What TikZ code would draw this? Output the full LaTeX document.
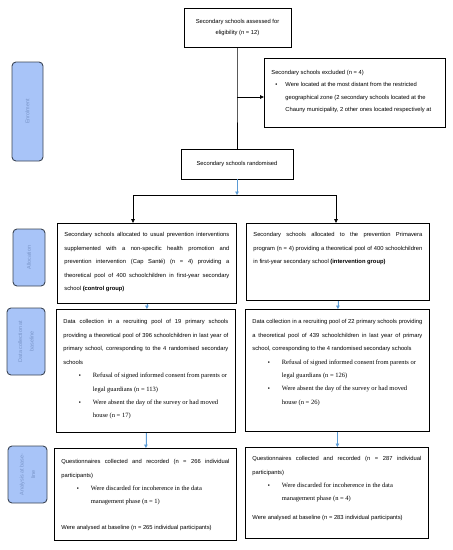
\documentclass[tikz,border=0pt]{standalone}
\usepackage{fontspec}
\setmainfont{Liberation Sans}
\newfontfamily\timesfont{Liberation Serif}
\usetikzlibrary{arrows.meta}
\usetikzlibrary{positioning}

\definecolor{stagefill}{RGB}{168,196,248}
\definecolor{stageline}{RGB}{60,70,86}
\definecolor{stagetext}{RGB}{120,148,200}
\definecolor{flowblue}{RGB}{91,155,213}

% top aligned text of a flow box: [first baseline]{height}{width}{text}
\newcommand{\boxtext}[4][14pt]{\parbox[t][#2][t]{#3}{\rule{0pt}{#1}#4}}
% bullet item: {left skip}{gap after bullet}{text}
\newcommand{\bulletitem}[3]{\par{\leftskip=#1\noindent\llap{\textbullet\hspace{#2}}#3\par}}
\newcommand{\itemfont}{\timesfont\fontsize{6.5}{13.4}\selectfont}

\tikzset{
  flowbox/.style={draw, line width=0.8pt, anchor=north west, inner xsep=7pt, inner ysep=0pt,
    font=\fontsize{5.8}{13.6}\selectfont},
  stage/.style={draw=stageline, fill=stagefill, line width=0.9pt, rounded corners=4pt,
    text=stagetext, font=\fontsize{5.4}{11.5}\selectfont, align=center, inner sep=0pt, rotate=90},
  flowarrow/.style={line width=0.8pt, -{Triangle[length=4pt,width=3.6pt]}},
  bluearrow/.style={draw=flowblue, line width=0.6pt, -{Triangle[length=3.5pt,width=3.6pt]}, fill=flowblue}
}

\begin{document}
\begin{tikzpicture}[x=1pt, y=-1pt]
    \useasboundingbox (0,0) rectangle (453,550);

    % Stage labels on the left
    \node[stage, minimum width=99pt, minimum height=31pt] (enrol) at (27.5,111.5) {Enrolment};
    \node[stage, minimum width=57pt, minimum height=32pt] (alloc) at (29,257.5) {Allocation};
    \node[stage, minimum width=67pt, minimum height=38pt] (datacoll) at (26,341.5) {Data collection at\\baseline};
    \node[stage, minimum width=57pt, minimum height=39pt] (analysis) at (27.5,474.5) {Analysis at base-\\line};

    % Enrolment
    \node[draw, line width=0.8pt, minimum width=107pt, minimum height=39pt, align=center,
        font=\fontsize{5.8}{11.5}\selectfont] (assessed) at (237.5,27.5)
        {Secondary schools assessed for\\eligibility (n = 12)};
    \node[flowbox, font=\fontsize{5.8}{12.3}\selectfont] (excluded) at (264,58)
        {\boxtext[16pt]{69pt}{167pt}{\raggedright Secondary schools excluded (n = 4)
        \bulletitem{14pt}{8pt}{Were located at the most distant from the restricted\\
        geographical zone (2 secondary schools located at the\\
        Chauny municipality, 2 other ones located respectively at}}};
    \node[draw, line width=0.8pt, minimum width=112pt, minimum height=30pt,
        font=\fontsize{5.8}{11.5}\selectfont] (randomised) at (237,164)
        {Secondary schools randomised};

    % Allocation
    \node[flowbox] (ctrlalloc) at (57,223) {\boxtext[13pt]{80pt}{165pt}{%
        Secondary schools allocated to usual prevention interventions\linebreak
        supplemented with a non-specific health promotion and\linebreak
        prevention intervention (Cap Santé) (n = 4) providing a\linebreak
        theoretical pool of 400 schoolchildren in first-year secondary\linebreak
        school \textbf{(control group)}}};
    \node[flowbox] (intalloc) at (246,223) {\boxtext[13pt]{77pt}{169pt}{%
        Secondary schools allocated to the prevention Primavera\linebreak
        program (n = 4) providing a theoretical pool of 400 schoolchildren\linebreak
        in first-year secondary school \textbf{(intervention group)}}};

    % Data collection at baseline
    \node[flowbox] (ctrldata) at (56,309) {\boxtext{123pt}{165pt}{%
        Data collection in a recruiting pool of 19 primary schools\linebreak
        providing a theoretical pool of 396 schoolchildren in last year of\linebreak
        primary school, corresponding to the 4 randomised secondary\linebreak
        schools
        \bulletitem{29.5pt}{12pt}{\itemfont Refusal of signed informed consent from parents or\\
        legal guardians (n = 113)}
        \bulletitem{29.5pt}{12pt}{\itemfont Were absent the day of the survey or had moved\\
        house (n = 17)}}};
    \node[flowbox] (intdata) at (245,309) {\boxtext{122pt}{170pt}{%
        Data collection in a recruiting pool of 22 primary schools providing\linebreak
        a theoretical pool of 439 schoolchildren in last year of primary\linebreak
        school, corresponding to the 4 randomised secondary schools
        \bulletitem{29.5pt}{12pt}{\itemfont Refusal of signed informed consent from parents or\\
        legal guardians (n = 126)}
        \bulletitem{29.5pt}{12pt}{\itemfont Were absent the day of the survey or had moved\\
        house (n = 26)}}};

    % Analysis at baseline
    \node[flowbox] (ctrlana) at (54,448) {\boxtext[15pt]{92pt}{168pt}{%
        Questionnaires collected and recorded (n = 266 individual\linebreak
        participants)
        \bulletitem{29.5pt}{12pt}{\itemfont Were discarded for incoherence in the data\\
        management phase (n = 1)}
        \vspace{12pt}
        Were analysed at baseline (n = 265 individual participants)}};
    \node[flowbox] (intana) at (245,447) {\boxtext[13pt]{91pt}{169pt}{%
        Questionnaires collected and recorded (n = 287 individual\linebreak
        participants)
        \bulletitem{29.5pt}{12pt}{\itemfont Were discarded for incoherence in the data\\
        management phase (n = 4)}
        \vspace{5pt}
        Were analysed at baseline (n = 283 individual participants)}};

    % Trunk, exclusion and split
    \coordinate (exclbranch) at (237,97);
    \coordinate (split) at (237,195);
    \coordinate (leftsplit) at (133,195);
    \coordinate (rightsplit) at (336,195);
    \draw[line width=0.8pt] (exclbranch |- assessed.south) -- (exclbranch) -- (exclbranch |- randomised.north);
    \draw[flowarrow] (exclbranch) -- (exclbranch -| excluded.west);
    \draw[bluearrow] (randomised.south) -- (split);
    \draw[line width=0.8pt] (leftsplit) -- (rightsplit);
    \draw[flowarrow] (leftsplit) -- (leftsplit |- ctrlalloc.north);
    \draw[flowarrow] (rightsplit) -- (rightsplit |- intalloc.north);

    % Blue arrows between the stages
    \foreach \from/\to in {ctrlalloc/ctrldata, intalloc/intdata, ctrldata/ctrlana, intdata/intana} {
        \draw[bluearrow] (\from.south) -- (\from.south |- \to.north);
    }
\end{tikzpicture}
\end{document}
